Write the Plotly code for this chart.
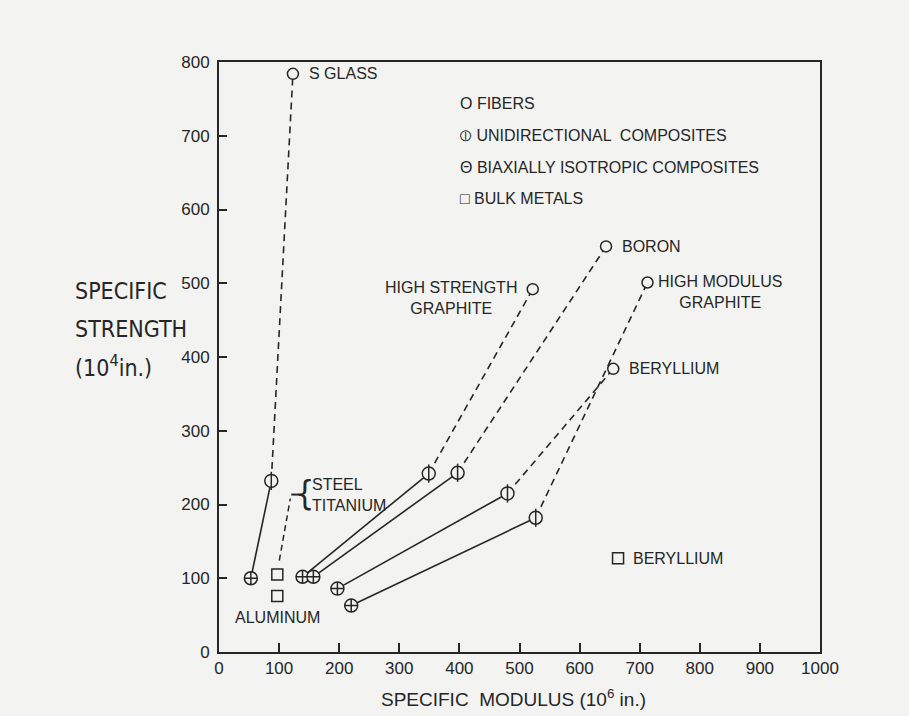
import plotly.graph_objects as go

# ---------------- data ----------------
materials = ["S GLASS", "HIGH STRENGTH<br>GRAPHITE", "BORON", "BERYLLIUM", "HIGH MODULUS<br>GRAPHITE"]
biax_x = [53, 139, 157, 197, 220]      # biaxially isotropic composites
biax_y = [100, 102, 102, 86, 63]
uni_x = [87, 349, 397, 480, 527]       # unidirectional composites
uni_y = [232, 242, 243, 215, 182]
fiber_x = [123, 522, 644, 656, 713]    # fibers
fiber_y = [784, 492, 550, 384, 501]

bulk_names = ["STEEL<br>TITANIUM", "ALUMINUM", "BERYLLIUM"]
bulk_x = [97, 97, 664]
bulk_y = [105, 76, 127]

x_ticks = [0, 100, 200, 300, 400, 500, 600, 700, 800, 900, 1000]
y_ticks = [0, 100, 200, 300, 400, 500, 600, 700, 800]

legend_items = ["O FIBERS", "⦶ UNIDIRECTIONAL  COMPOSITES",
                "Θ BIAXIALLY ISOTROPIC COMPOSITES", "□ BULK METALS"]

# ---------------- style ----------------
INK = "#262626"
BG = "#f3f3f1"
FONT = "Liberation Sans, Arial, sans-serif"
NARROW = "Liberation Sans Narrow, DejaVu Sans Condensed, Arial Narrow, sans-serif"

fig = go.Figure()

for i in range(len(materials)):
    fig.add_trace(go.Scatter(x=[biax_x[i], uni_x[i]], y=[biax_y[i], uni_y[i]],
                             mode="lines", line=dict(color=INK, width=1.6),
                             showlegend=False, hoverinfo="skip"))
    fig.add_trace(go.Scatter(x=[uni_x[i], fiber_x[i]], y=[uni_y[i], fiber_y[i]],
                             mode="lines", line=dict(color=INK, width=1.6, dash="7px,5px"),
                             showlegend=False, hoverinfo="skip"))

mk_line = dict(color=INK, width=1.5)
fig.add_trace(go.Scatter(x=fiber_x, y=fiber_y, mode="markers", name="FIBERS",
                         marker=dict(symbol="circle", size=11, color=BG, line=mk_line),
                         showlegend=False))
fig.add_trace(go.Scatter(x=uni_x, y=uni_y, mode="markers", name="UNIDIRECTIONAL COMPOSITES",
                         marker=dict(symbol="circle", size=13, color=BG, line=mk_line),
                         showlegend=False))
fig.add_trace(go.Scatter(x=uni_x, y=uni_y, mode="markers", hoverinfo="skip",
                         marker=dict(symbol="line-ns-open", size=13, color=INK, line=mk_line),
                         showlegend=False))
fig.add_trace(go.Scatter(x=biax_x, y=biax_y, mode="markers", name="BIAXIALLY ISOTROPIC COMPOSITES",
                         marker=dict(symbol="circle-cross", size=13, color=BG, line=mk_line),
                         showlegend=False))
fig.add_trace(go.Scatter(x=bulk_x, y=bulk_y, mode="markers", name="BULK METALS",
                         marker=dict(symbol="square", size=11, color=BG, line=mk_line),
                         showlegend=False))

ann = []
lab = dict(family=FONT, size=16, color=INK)
# fiber labels
ann.append(dict(x=fiber_x[0], y=fiber_y[0], text=materials[0], xanchor="left", yanchor="middle",
                xshift=14, showarrow=False, font=lab))
ann.append(dict(x=fiber_x[1], y=fiber_y[1], text=materials[1], xanchor="right", yanchor="top",
                xshift=-14, yshift=12, align="center", showarrow=False, font=lab))
ann.append(dict(x=fiber_x[2], y=fiber_y[2], text=materials[2], xanchor="left", yanchor="middle",
                xshift=14, showarrow=False, font=lab))
ann.append(dict(x=fiber_x[3], y=fiber_y[3], text=materials[3], xanchor="left", yanchor="middle",
                xshift=14, showarrow=False, font=lab))
ann.append(dict(x=fiber_x[4], y=fiber_y[4], text=materials[4], xanchor="left", yanchor="top",
                xshift=8, yshift=12, align="center", showarrow=False, font=lab))
# bulk labels
ann.append(dict(x=bulk_x[0], y=bulk_y[0], text="{", xanchor="center", yanchor="middle",
                xshift=27, yshift=82, showarrow=False,
                font=dict(family=NARROW, size=34, color=INK)))
ann.append(dict(x=bulk_x[0], y=bulk_y[0], text=bulk_names[0], xanchor="left", yanchor="middle",
                xshift=33, yshift=80, align="left", showarrow=False, font=lab))
ann.append(dict(x=bulk_x[1], y=bulk_y[1], text=bulk_names[1], xanchor="center", yanchor="middle",
                yshift=-22, showarrow=False, font=lab))
ann.append(dict(x=bulk_x[2], y=bulk_y[2], text=bulk_names[2], xanchor="left", yanchor="middle",
                xshift=13, showarrow=False, font=lab))

# legend block
for k, t in enumerate(legend_items):
    ann.append(dict(xref="paper", yref="paper", x=0.398, y=0.930 - k * 0.054, text=t,
                    xanchor="left", yanchor="middle", showarrow=False, font=lab))

# y-axis title (three lines)
ytitle = ["SPECIFIC", "STRENGTH", "(10<sup>4</sup>in.)"]
for k, t in enumerate(ytitle):
    ann.append(dict(xref="paper", yref="paper", x=-0.243, y=0.612 - k * 0.064, text=t,
                    xanchor="left", yanchor="middle", showarrow=False,
                    font=dict(family=NARROW, size=23, color=INK)))

# x-axis title
ann.append(dict(xref="paper", yref="paper", x=0.49, y=-0.078, text="SPECIFIC  MODULUS (10<sup>6</sup> in.)",
                xanchor="center", yanchor="middle", showarrow=False,
                font=dict(family=FONT, size=19, color=INK)))

# leader from the steel/titanium square up to its bracket, plus the short dash
shapes = [
    dict(type="line", xref="x", yref="y", xsizemode="pixel", ysizemode="pixel",
         xanchor=bulk_x[0], yanchor=bulk_y[0], x0=2, y0=14, x1=13, y1=76,
         line=dict(color=INK, width=1.5, dash="6px,4px")),
    dict(type="line", xref="x", yref="y", xsizemode="pixel", ysizemode="pixel",
         xanchor=bulk_x[0], yanchor=bulk_y[0], x0=14, y0=80, x1=24, y1=80,
         line=dict(color=INK, width=2)),
]

fig.update_layout(
    width=909, height=716,
    margin=dict(l=219, r=89, t=62, b=64),
    paper_bgcolor=BG, plot_bgcolor=BG,
    annotations=ann, shapes=shapes,
    showlegend=False,
    xaxis=dict(range=[0, 1000], tickvals=x_ticks, ticks="inside", ticklen=9, tickwidth=1.5,
               tickcolor=INK, showline=True, linecolor=INK, linewidth=2, mirror=True,
               showgrid=False, zeroline=False,
               tickfont=dict(family=FONT, size=17, color=INK)),
    yaxis=dict(range=[0, 800], tickvals=y_ticks, ticks="inside", ticklen=8, tickwidth=1.5,
               tickcolor=INK, showline=True, linecolor=INK, linewidth=2, mirror=True,
               showgrid=False, zeroline=False, ticklabelstandoff=4,
               tickfont=dict(family=FONT, size=17, color=INK)),
)

fig.write_html("out.html")
